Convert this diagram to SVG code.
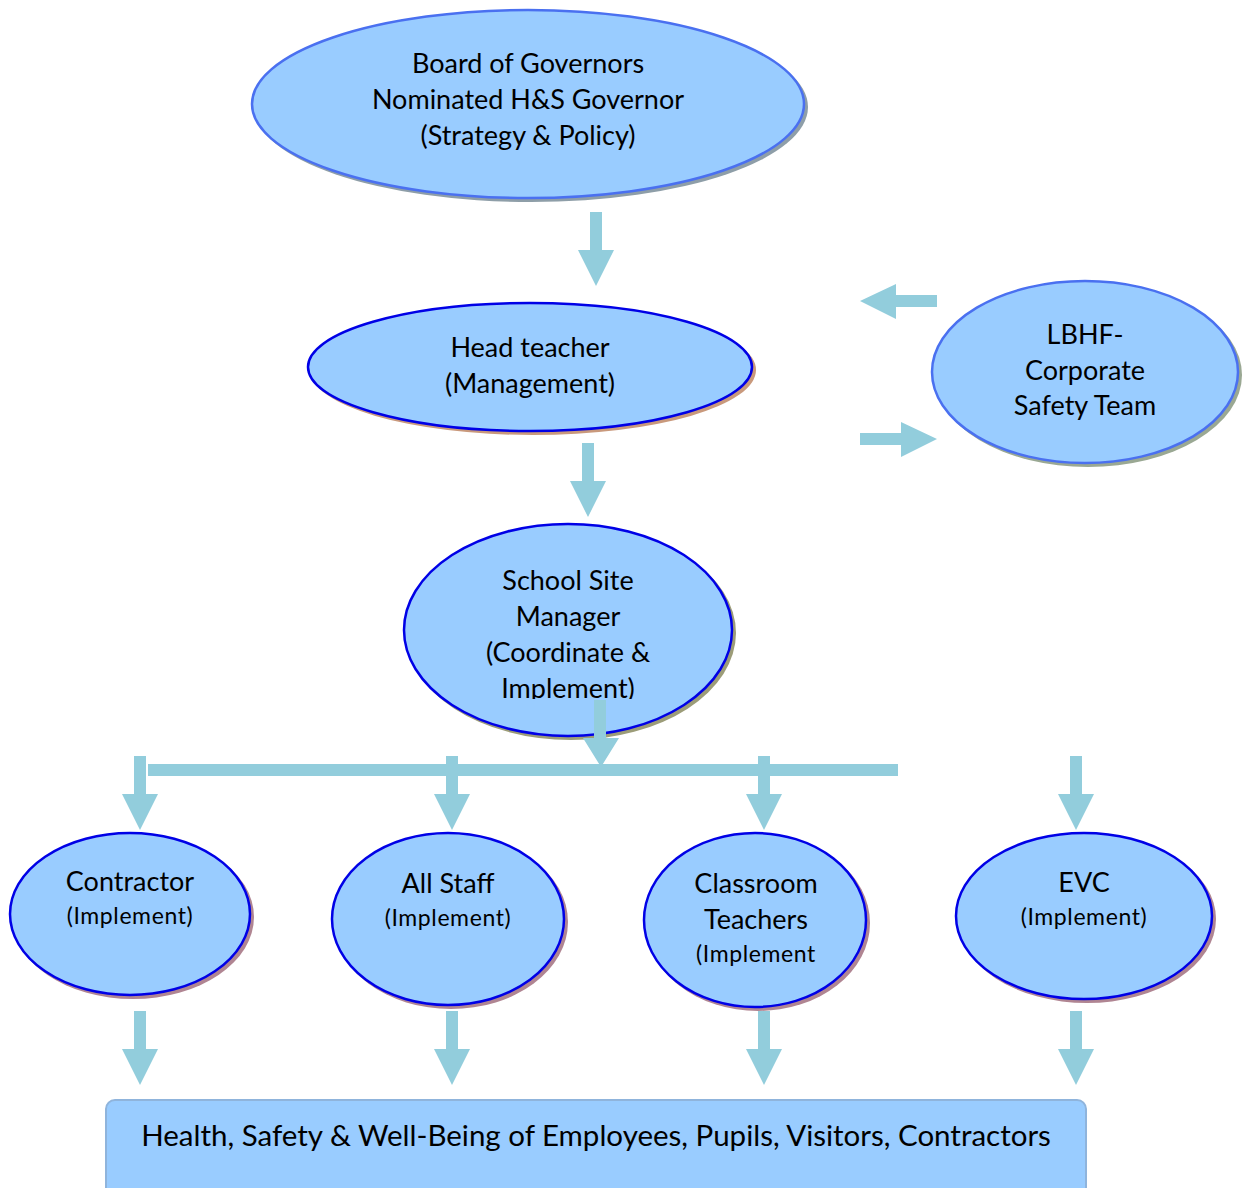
<svg xmlns="http://www.w3.org/2000/svg" width="1242" height="1188" viewBox="0 0 1242 1188">
<style>
.n{fill:#99ccff;stroke-width:2.5}
.s1{stroke:#4a70f0}
.s2{stroke:#0000e6}
.t{font-family:"Lato","Noto Sans",sans-serif;font-size:27px;fill:#000;text-anchor:middle}
.ts{font-size:23px;letter-spacing:0.6px}
.a{fill:#92cddc}
</style>
<defs>
<path id="dn" d="M-6,0 H6 V38 H18 L0,74 L-18,38 H-6 Z"/>
<clipPath id="cp"><rect x="0" y="0" width="1242" height="699"/></clipPath>
</defs>
<rect width="1242" height="1188" fill="#fff"/>
<g id="board">
<ellipse cx="531" cy="107" rx="277" ry="95" fill="#8e9ea8"/>
<ellipse class="n s1" cx="528" cy="104" rx="276" ry="94"/>
<text class="t" x="528" y="73">Board of Governors</text>
<text class="t" x="528" y="109">Nominated H&amp;S Governor</text>
<text class="t" x="528" y="145">(Strategy &amp; Policy)</text>
</g>
<g id="head">
<ellipse cx="533" cy="370" rx="223" ry="65" fill="#c9997c"/>
<ellipse class="n s2" cx="530" cy="367" rx="222" ry="64"/>
<text class="t" x="530" y="357">Head teacher</text>
<text class="t" x="530" y="393">(Management)</text>
</g>
<g id="lbhf">
<ellipse cx="1088" cy="375" rx="154" ry="92" fill="#9aa893"/>
<ellipse class="n s1" cx="1085" cy="372" rx="153" ry="91"/>
<text class="t" x="1085" y="344">LBHF-</text>
<text class="t" x="1085" y="380">Corporate</text>
<text class="t" x="1085" y="415">Safety Team</text>
</g>
<g id="ssm">
<ellipse cx="571" cy="633" rx="165" ry="107" fill="#9c9c78"/>
<ellipse class="n s2" cx="568" cy="630" rx="164" ry="106"/>
<g clip-path="url(#cp)">
<text class="t" x="568" y="590">School Site</text>
<text class="t" x="568" y="626">Manager</text>
<text class="t" x="568" y="662">(Coordinate &amp;</text>
<text class="t" x="568" y="698">Implement)</text>
</g>
</g>
<g id="contractor">
<ellipse cx="133" cy="917" rx="121" ry="82" fill="#b08592"/>
<ellipse class="n s2" cx="130" cy="914" rx="120" ry="81"/>
<text class="t" x="130" y="891">Contractor</text>
<text class="t ts" x="130" y="924">(Implement)</text>
</g>
<g id="allstaff">
<ellipse cx="451" cy="922" rx="117" ry="87" fill="#b08592"/>
<ellipse class="n s2" cx="448" cy="919" rx="116" ry="86"/>
<text class="t" x="448" y="893">All Staff</text>
<text class="t ts" x="448" y="926">(Implement)</text>
</g>
<g id="classroom">
<ellipse cx="758" cy="923" rx="112" ry="88" fill="#b08592"/>
<ellipse class="n s2" cx="755" cy="920" rx="111" ry="87"/>
<text class="t" x="756" y="893">Classroom</text>
<text class="t" x="756" y="929">Teachers</text>
<text class="t ts" x="756" y="962">(Implement</text>
</g>
<g id="evc">
<ellipse cx="1087" cy="919" rx="129" ry="84" fill="#b08592"/>
<ellipse class="n s2" cx="1084" cy="916" rx="128" ry="83"/>
<text class="t" x="1084" y="892">EVC</text>
<text class="t ts" x="1084" y="925">(Implement)</text>
</g>
<g id="wellbeing">
<rect x="106" y="1100" width="980" height="100" rx="9" fill="#99ccff" stroke="#8fb4dc" stroke-width="2"/>
<text class="t" x="596" y="1146" style="font-size:29.5px">Health, Safety &amp; Well-Being of Employees, Pupils, Visitors, Contractors</text>
</g>
<g id="connectors" class="a">
<use href="#dn" x="596" y="212"/>
<use href="#dn" x="588" y="443"/>
<path d="M937,295 H896 V284 L860,301 L896,319 V307 H937 Z"/>
<path d="M860,433 H901 V422 L937,439 L901,457 V445 H860 Z"/>
<path d="M594,700 H606 V738 H619 L601,767 L583,738 H594 Z"/>
<rect x="148" y="764" width="750" height="12"/>
<use href="#dn" x="140" y="756"/>
<use href="#dn" x="452" y="756"/>
<use href="#dn" x="764" y="756"/>
<use href="#dn" x="1076" y="756"/>
<use href="#dn" x="140" y="1011"/>
<use href="#dn" x="452" y="1011"/>
<use href="#dn" x="764" y="1011"/>
<use href="#dn" x="1076" y="1011"/>
</g>
</svg>
